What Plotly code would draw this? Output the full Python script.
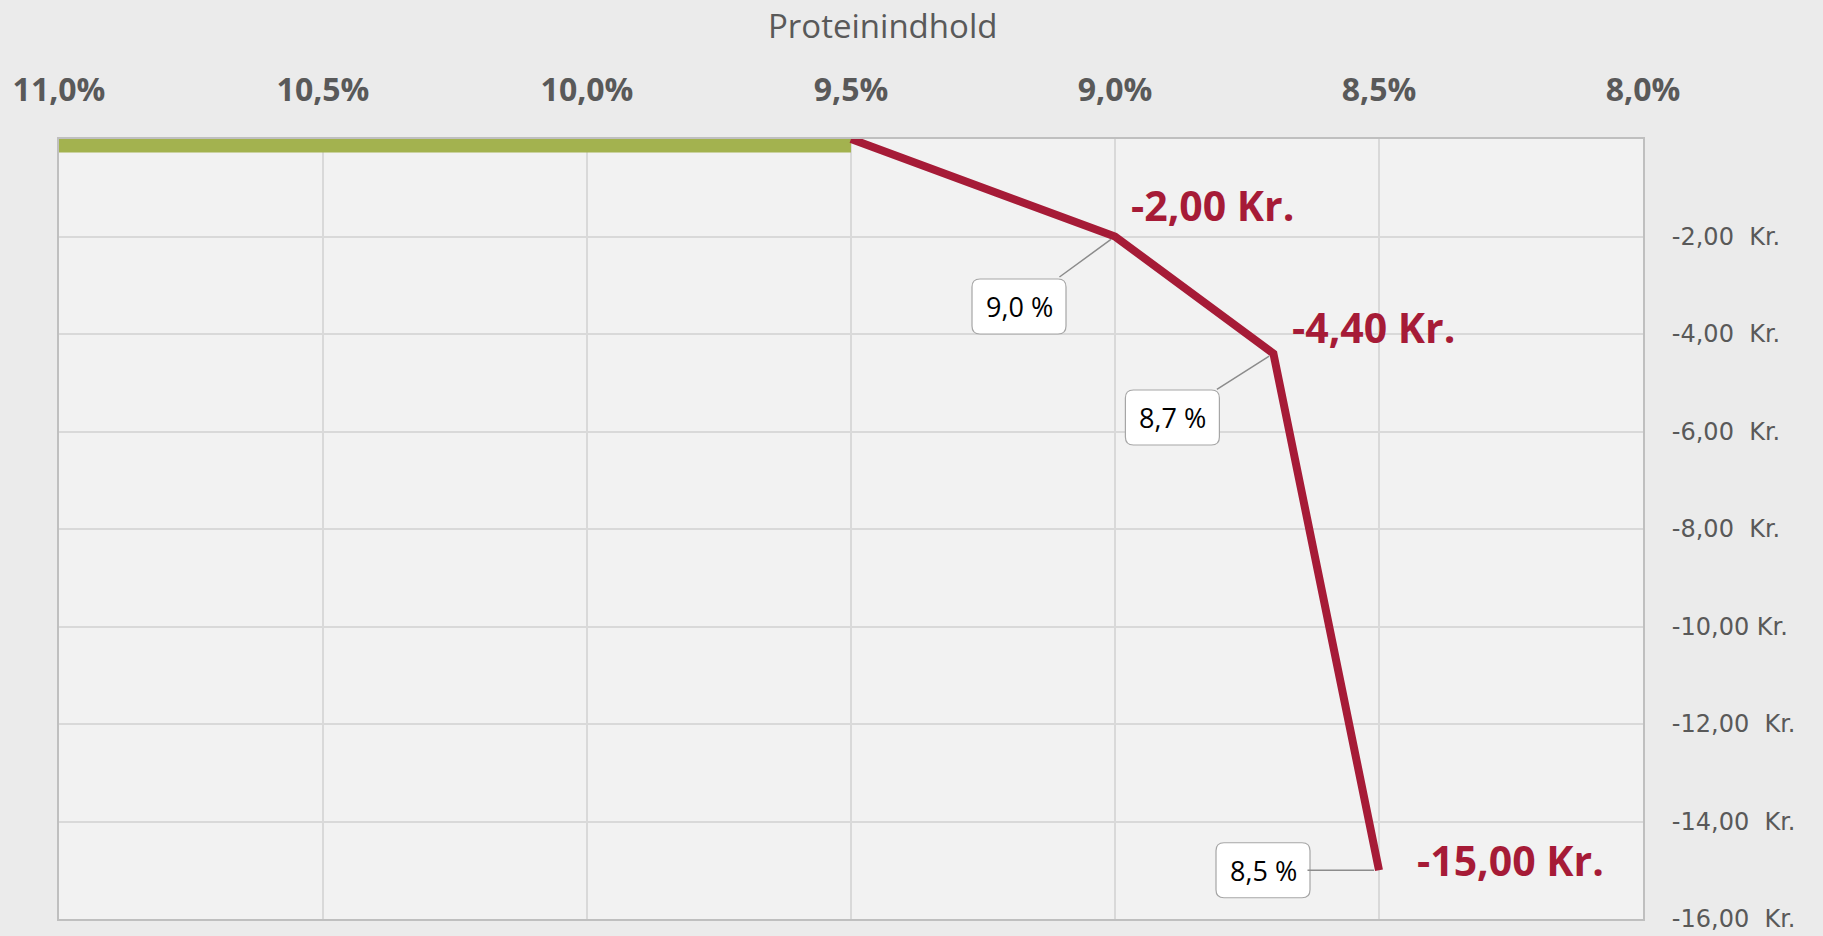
import plotly.graph_objects as go

# ---- data ----
green_x = [11.0, 9.5]
green_y = [0.0, 0.0]
red_x = [9.5, 9.0, 8.7, 8.5]
red_y = [0.0, -2.0, -4.4, -15.0]

x_ticks = [11.0, 10.5, 10.0, 9.5, 9.0, 8.5, 8.0]
x_ticklabels = ["11,0%", "10,5%", "10,0%", "9,5%", "9,0%", "8,5%", "8,0%"]
y_ticks = [-2, -4, -6, -8, -10, -12, -14, -16]
y_ticklabels = ["-2,00\u00a0\u00a0Kr.", "-4,00\u00a0\u00a0Kr.", "-6,00\u00a0\u00a0Kr.", "-8,00\u00a0\u00a0Kr.",
                "-10,00\u00a0Kr.", "-12,00\u00a0\u00a0Kr.", "-14,00\u00a0\u00a0Kr.", "-16,00\u00a0\u00a0Kr."]

value_labels = ["-2,00 Kr.", "-4,40 Kr.", "-15,00 Kr."]
pct_labels = ["9,0 %", "8,7 %", "8,5 %"]

RED = "#A61B37"
GREEN = "#A3B24F"
GRAY = "#595959"

fig = go.Figure()
fig.add_trace(go.Scatter(x=green_x, y=green_y, mode="lines",
                         line=dict(color=GREEN, width=27), hoverinfo="skip"))
fig.add_trace(go.Scatter(x=red_x, y=red_y, mode="lines",
                         line=dict(color=RED, width=8), hoverinfo="skip"))

# value labels (bold red)
val_shift = [(14, 32), (17, 27), (36, 10)]
for xv, yv, lab, (dx, dy) in zip(red_x[1:], red_y[1:], value_labels, val_shift):
    fig.add_annotation(x=xv, y=yv, text=lab, showarrow=False, xanchor="left", yanchor="middle",
                       xshift=dx, yshift=dy,
                       font=dict(family="Open Sans", size=41, color=RED, weight="bold"))


def rounded_rect(cx, cy, w, h, r):
    x0, x1 = cx - w / 2, cx + w / 2
    y0, y1 = cy - h / 2, cy + h / 2
    return (f"M {x0 + r},{y0} L {x1 - r},{y0} Q {x1},{y0} {x1},{y0 + r} "
            f"L {x1},{y1 - r} Q {x1},{y1} {x1 - r},{y1} L {x0 + r},{y1} "
            f"Q {x0},{y1} {x0},{y1 - r} L {x0},{y0 + r} Q {x0},{y0} {x0 + r},{y0} Z")


# percent callouts (box centre offsets in pixels, screen y down)
box_off = [(-96, 70), (-101, 64), (-116, 0)]
BOX_W, BOX_H = 94, 55
for xv, yv, lab, (ax, ay) in zip(red_x[1:], red_y[1:], pct_labels, box_off):
    fig.add_shape(type="path", xref="x", yref="y", xsizemode="pixel", ysizemode="pixel",
                  xanchor=xv, yanchor=yv, path=rounded_rect(ax, -ay, BOX_W, BOX_H, 8),
                  fillcolor="white", line=dict(color="#A6A6A6", width=1.2), layer="above")
    fig.add_annotation(x=xv, y=yv, text=lab, showarrow=True, arrowhead=0, arrowwidth=1.5,
                       arrowcolor="#8C8C8C", ax=ax, ay=ay, standoff=5,
                       bgcolor="rgba(0,0,0,0)", borderwidth=0, borderpad=11,
                       font=dict(family="Open Sans", size=27, color="black"))

# axis title
fig.add_annotation(xref="paper", yref="paper", x=0.5196, y=1.1455, text="Proteinindhold",
                   showarrow=False, xanchor="center", yanchor="middle",
                   font=dict(family="Open Sans", size=33, color=GRAY))

fig.update_layout(
    width=1823, height=936,
    paper_bgcolor="#EBEBEB", plot_bgcolor="#F2F2F2",
    margin=dict(l=59, r=180, t=139, b=17, autoexpand=False),
    showlegend=False,
)
fig.update_xaxes(range=[11.0, 8.0], side="top", tickvals=x_ticks, ticktext=x_ticklabels,
                 showgrid=True, gridcolor="#D9D9D9", gridwidth=1.5,
                 showline=True, linecolor="#BFBFBF", linewidth=2, mirror=True,
                 zeroline=False, ticks="", ticklabelstandoff=23, automargin=False,
                 tickfont=dict(family="Open Sans", size=32, color=GRAY, weight="bold"))
fig.update_yaxes(range=[-16, 0], side="right", tickvals=y_ticks, ticktext=y_ticklabels,
                 showgrid=True, gridcolor="#D9D9D9", gridwidth=1.5,
                 showline=True, linecolor="#BFBFBF", linewidth=2, mirror=True,
                 zeroline=False, ticks="", ticklabelstandoff=22, automargin=False,
                 tickfont=dict(family="DejaVu Sans", size=24, color=GRAY))

fig.write_html("out.html", config={"displayModeBar": False},
               post_script="document.body.style.margin='0px';document.body.style.background='#EBEBEB';document.body.style.overflow='hidden';")
